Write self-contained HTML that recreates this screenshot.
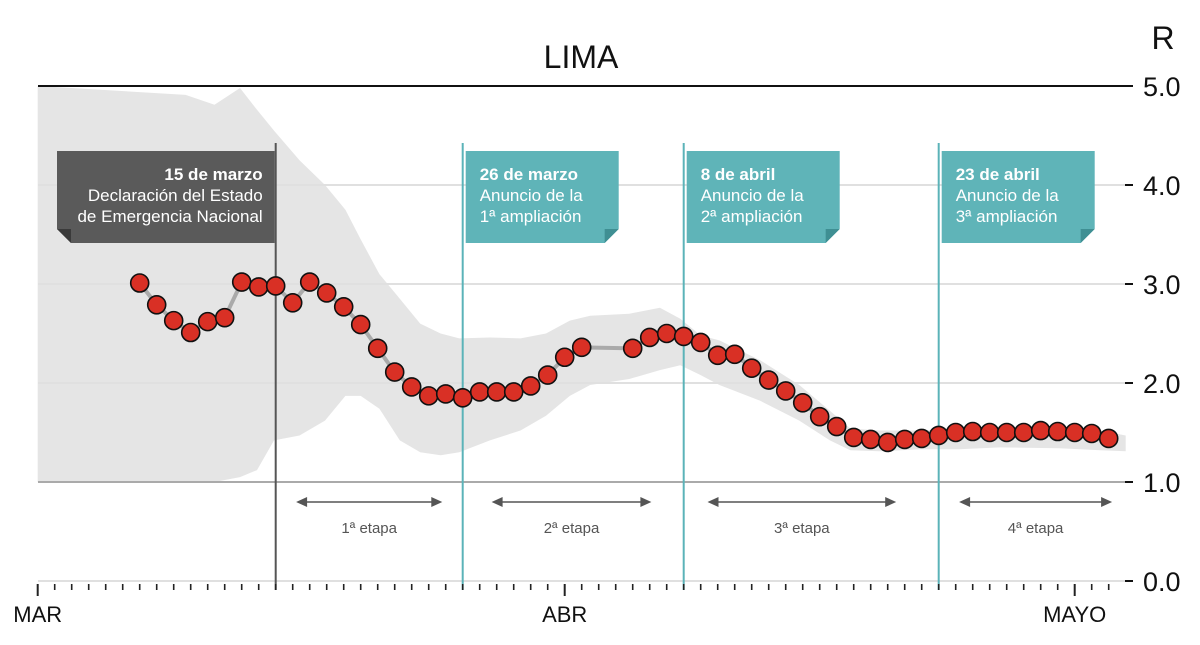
<!DOCTYPE html>
<html><head><meta charset="utf-8"><style>
body{margin:0;background:#fff;}
svg{display:block;font-family:"Liberation Sans",sans-serif;}
</style></head><body>
<svg id="chart" width="1200" height="645" viewBox="0 0 1200 645" xmlns="http://www.w3.org/2000/svg">
<text x="581" y="68" font-size="32" text-anchor="middle" fill="#111">LIMA</text>
<text x="1163" y="49" font-size="32" text-anchor="middle" fill="#111">R</text>
<g id="band"></g>
<g id="grid"></g>
<g id="events"></g>
<g id="series"></g>
<g id="xaxis"></g>
<g id="stages"></g>
</svg>
<script>
const days=[6,7,8,9,10,11,12,13,14,15,16,17,18,19,20,21,22,23,24,25,26,27,28,29,30,31,32,35,36,37,38,39,40,41,42,43,44,45,46,47,48,49,50,51,52,53,54,55,56,57,58,59,60,61,62,63];
const rValues=[3.01,2.79,2.63,2.51,2.62,2.66,3.02,2.97,2.98,2.81,3.02,2.91,2.77,2.59,2.35,2.11,1.96,1.87,1.89,1.85,1.91,1.91,1.91,1.97,2.08,2.26,2.36,2.35,2.46,2.50,2.47,2.41,2.28,2.29,2.15,2.03,1.92,1.80,1.66,1.56,1.45,1.43,1.40,1.43,1.44,1.47,1.50,1.51,1.50,1.50,1.50,1.52,1.51,1.50,1.49,1.44];
const bandDays=[0,8.7,10.4,11.9,12.9,13.9,15.4,16.9,18.1,19,20.1,21.3,22.5,23.7,24.8,26.6,28.4,29.9,31.3,32.5,34.8,36.6,37.8,39,40.1,42.5,44.8,46.6,47.8,49.5,51.9,54.2,56.6,60.1,62.5,64];
const bandUpper=[5.0,4.91,4.81,4.98,4.76,4.55,4.25,4.0,3.75,3.45,3.1,2.85,2.6,2.5,2.45,2.46,2.45,2.5,2.63,2.68,2.7,2.76,2.65,2.48,2.43,2.23,1.98,1.72,1.54,1.52,1.52,1.54,1.56,1.54,1.52,1.47];
const bandLower=[1.0,1.0,1.0,1.05,1.12,1.42,1.47,1.62,1.87,1.87,1.74,1.42,1.3,1.27,1.3,1.42,1.52,1.67,1.87,1.98,2.04,2.13,2.18,2.08,1.98,1.82,1.62,1.42,1.32,1.31,1.33,1.33,1.35,1.34,1.32,1.31];
const yTicks=[0,1,2,3,4,5];
const yTickLabels=["0.0","1.0","2.0","3.0","4.0","5.0"];
const monthDays=[0,31,61];
const monthLabels=["MAR","ABR","MAYO"];
const eventDays=[14,25,38,53];
const eventDates=["15 de marzo","26 de marzo","8 de abril","23 de abril"];
const eventText1=["Declaración del Estado","Anuncio de la","Anuncio de la","Anuncio de la"];
const eventText2=["de Emergencia Nacional","1ª ampliación","2ª ampliación","3ª ampliación"];
const stageStart=[15.2,26.7,39.4,54.2];
const stageEnd=[23.8,36.1,50.5,63.2];
const stageLabels=["1ª etapa","2ª etapa","3ª etapa","4ª etapa"];

const NS="http://www.w3.org/2000/svg";
const X=d=>37.7+17*d;
const Y=v=>581-99*v;
function mk(tag,attrs,parent){const e=document.createElementNS(NS,tag);for(const k in attrs)e.setAttribute(k,attrs[k]);parent.appendChild(e);return e;}
const g=id=>document.getElementById(id);

let p="";
bandDays.forEach((d,i)=>{p+=(i?"L":"M")+X(d).toFixed(1)+","+Y(Math.min(bandUpper[i],5)).toFixed(1);});
for(let i=bandDays.length-1;i>=0;i--)p+="L"+X(bandDays[i]).toFixed(1)+","+Y(bandLower[i]).toFixed(1);
const bp=mk("path",{d:p+"Z",fill:"#e5e5e5"},g("band"));



yTicks.forEach((v,i)=>{
  const col=v===5?"#111":v===1?"#aaa":"#e0e0e0";
  const ln=mk("line",{x1:38,x2:v===5?1133:1125,y1:Y(v),y2:Y(v),stroke:col,"stroke-width":2},g("grid"));
  
  
  const tk=mk("line",{x1:1125,x2:1133,y1:Y(v),y2:Y(v),stroke:"#111","stroke-width":2},g("grid"));
  
  
  const t=mk("text",{x:1143,y:Y(v)+10,"font-size":27,fill:"#111"},g("grid"));
  t.textContent=yTickLabels[i];
  
  
});

for(let d=0;d<=63;d++){
  const big=monthDays.includes(d);
  const tk=mk("line",{x1:X(d),x2:X(d),y1:584,y2:big?596:590,stroke:"#222","stroke-width":big?2:1.6},g("xaxis"));
  
  
}
monthDays.forEach((d,i)=>{
  const t=mk("text",{x:X(d),y:622,"font-size":22,"text-anchor":"middle",fill:"#111"},g("xaxis"));
  t.textContent=monthLabels[i];
  
  
});

eventDays.forEach((d,i)=>{
  const x=X(d);const dark=i===0;
  const ln=mk("line",{x1:x,x2:x,y1:143,y2:590,stroke:dark?"#555":"#5bb3b8","stroke-width":2},g("events"));
  
  
  const bx=dark?57:x+3, bw=dark?x-1-57:153, by=151, bh=92;
  const fill=dark?"#5a5a5a":"#5fb4b8";
  let path;
  if(dark) path=`M${bx},${by}H${bx+bw}V${by+bh}H${bx+14}L${bx},${by+bh-14}Z`;
  else path=`M${bx},${by}H${bx+bw}V${by+bh-14}L${bx+bw-14},${by+bh}H${bx}Z`;
  const box=mk("path",{d:path,fill:fill},g("events"));
  
  
  const fold=dark?`M${bx},${by+bh-14}L${bx+14},${by+bh-14}L${bx+14},${by+bh}Z`:`M${bx+bw},${by+bh-14}L${bx+bw-14},${by+bh-14}L${bx+bw-14},${by+bh}Z`;
  const f=mk("path",{d:fold,fill:dark?"#3a3a3a":"#3f8f93"},g("events"));
  
  
  const tx=dark?bx+bw-12:bx+14, anc=dark?"end":"start";
  [eventDates[i],eventText1[i],eventText2[i]].forEach((s,j)=>{
    const t=mk("text",{x:tx,y:by+29+j*21,"font-size":17,"text-anchor":anc,fill:"#fff","font-weight":j===0?"bold":"normal"},g("events"));
    t.textContent=s;
    
    
  });
});

let lp="";
days.forEach((d,i)=>{lp+=(i?"L":"M")+X(d).toFixed(1)+","+Y(rValues[i]).toFixed(1);});
const sl=mk("path",{d:lp,fill:"none",stroke:"#aaa","stroke-width":4},g("series"));


days.forEach((d,i)=>{
  const c=mk("circle",{cx:X(d),cy:Y(rValues[i]),r:9,fill:"#d93025",stroke:"#111","stroke-width":1.6},g("series"));
  
  
});

stageStart.forEach((s,i)=>{
  const x1=X(s),x2=X(stageEnd[i]),y=502;
  const l=mk("line",{x1:x1+8,x2:x2-8,y1:y,y2:y,stroke:"#555","stroke-width":1.5},g("stages"));
  
  
  const a=mk("path",{d:`M${x1},${y}l11,-5v10Z M${x2},${y}l-11,-5v10Z`,fill:"#555"},g("stages"));
  
  
  const t=mk("text",{x:(x1+x2)/2,y:533,"font-size":15,"text-anchor":"middle",fill:"#555"},g("stages"));
  t.textContent=stageLabels[i];
  
  
});
</script>
</body></html>
